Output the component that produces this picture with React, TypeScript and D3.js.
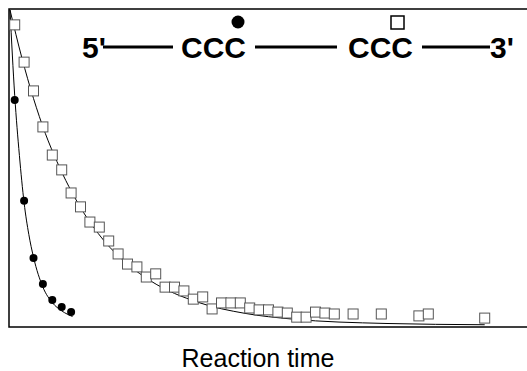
import React, { useEffect, useRef } from 'react';
import * as d3 from 'd3';

// sampling times (s) for the two series
const squareTimes = [1, 3, 5, 7, 9, 11, 13, 15, 17, 19, 21, 23, 25, 27, 29, 31, 33, 35, 37, 39, 41, 43, 45, 47, 49, 51, 53, 55, 57, 59, 61, 63, 65, 67, 69, 73, 79, 87, 89, 101];
const squareValues = [0.953, 0.835, 0.744, 0.63, 0.541, 0.494, 0.421, 0.377, 0.329, 0.313, 0.269, 0.228, 0.196, 0.187, 0.155, 0.165, 0.123, 0.123, 0.111, 0.085, 0.092, 0.054, 0.073, 0.073, 0.073, 0.057, 0.051, 0.051, 0.044, 0.041, 0.028, 0.028, 0.044, 0.041, 0.038, 0.038, 0.038, 0.032, 0.038, 0.025];

const circleTimes = [1, 3, 5, 7, 9, 11, 13];
const circleValues = [0.715, 0.396, 0.215, 0.133, 0.082, 0.06, 0.044];

// fitted decay curves
const squareFitTimes = [0, 2.5, 5, 7.5, 10, 15, 20, 25, 30, 40, 50, 60, 80, 101];
const squareFitValues = [1, 0.85, 0.72, 0.61, 0.52, 0.375, 0.27, 0.196, 0.142, 0.075, 0.04, 0.022, 0.008, 0.004];
const circleFitTimes = [0, 1, 2, 3, 4, 5, 7, 9, 11, 13.3];
const circleFitValues = [1, 0.73, 0.54, 0.39, 0.29, 0.218, 0.123, 0.074, 0.048, 0.03];

const xDomain = [0, 110];
const yDomain = [0, 1];
const xLabel = 'Reaction time';

type Pt = { t: number; v: number };

export default function App() {
  const svgRef = useRef<SVGSVGElement>(null);

  useEffect(() => {
    document.body.style.margin = '0';
    if (!svgRef.current) return;
    const svg = d3.select(svgRef.current);
    svg.selectAll('*').remove();

    const width = 527;
    const height = 371;
    const frame = { left: 9, top: 9, bottom: 327, right: 540 };

    const x = d3.scaleLinear().domain(xDomain).range([10, 527]);
    const y = d3.scaleLinear().domain(yDomain).range([326, 10]);

    svg.attr('width', width).attr('height', height);

    svg.append('rect')
      .attr('x', frame.left)
      .attr('y', frame.top)
      .attr('width', frame.right - frame.left)
      .attr('height', frame.bottom - frame.top)
      .attr('fill', 'white')
      .attr('stroke', '#000')
      .attr('stroke-width', 1.5);

    const line = d3.line<Pt>()
      .x(d => x(d.t))
      .y(d => y(d.v))
      .curve(d3.curveMonotoneX);

    const sqFit = squareFitTimes.map((t, i) => ({ t, v: squareFitValues[i] }));
    const ciFit = circleFitTimes.map((t, i) => ({ t, v: circleFitValues[i] }));

    [sqFit, ciFit].forEach(data => {
      svg.append('path')
        .datum(data)
        .attr('fill', 'none')
        .attr('stroke', '#000')
        .attr('stroke-width', 1)
        .attr('d', line);
    });

    const sq = squareTimes.map((t, i) => ({ t, v: squareValues[i] }));
    const s = 10;
    svg.append('g')
      .selectAll('rect')
      .data(sq)
      .enter()
      .append('rect')
      .attr('x', d => x(d.t) - s / 2)
      .attr('y', d => y(d.v) - s / 2)
      .attr('width', s)
      .attr('height', s)
      .attr('fill', 'white')
      .attr('stroke', '#555')
      .attr('stroke-width', 1);

    const ci = circleTimes.map((t, i) => ({ t, v: circleValues[i] }));
    svg.append('g')
      .selectAll('circle')
      .data(ci)
      .enter()
      .append('circle')
      .attr('cx', d => x(d.t))
      .attr('cy', d => y(d.v))
      .attr('r', 4)
      .attr('fill', '#000');

    // sequence annotation: 5'—CCC—CCC—3'
    const ann = svg.append('g')
      .attr('font-family', 'Liberation Sans, Arial, sans-serif')
      .attr('font-weight', 'bold')
      .attr('font-size', 30)
      .attr('fill', '#000');
    ann.append('text').attr('x', 82).attr('y', 58).text("5'");
    ann.append('text').attr('x', 181).attr('y', 58).text('CCC');
    ann.append('text').attr('x', 348).attr('y', 58).text('CCC');
    ann.append('text').attr('x', 490).attr('y', 58).text("3'");
    [[103, 173], [255, 337], [422, 490]].forEach(([a, b]) => {
      svg.append('line')
        .attr('x1', a).attr('x2', b)
        .attr('y1', 47).attr('y2', 47)
        .attr('stroke', '#000')
        .attr('stroke-width', 3);
    });
    svg.append('circle').attr('cx', 238).attr('cy', 22).attr('r', 6.5).attr('fill', '#000');
    svg.append('rect')
      .attr('x', 391).attr('y', 16).attr('width', 13).attr('height', 13)
      .attr('fill', 'white').attr('stroke', '#000').attr('stroke-width', 1.5);

    svg.append('text')
      .attr('x', 258)
      .attr('y', 367)
      .attr('text-anchor', 'middle')
      .attr('font-family', 'Liberation Sans, Arial, sans-serif')
      .attr('font-size', 25)
      .attr('fill', '#000')
      .text(xLabel);
  }, []);

  return <svg ref={svgRef} style={{ display: 'block' }} />;
}
